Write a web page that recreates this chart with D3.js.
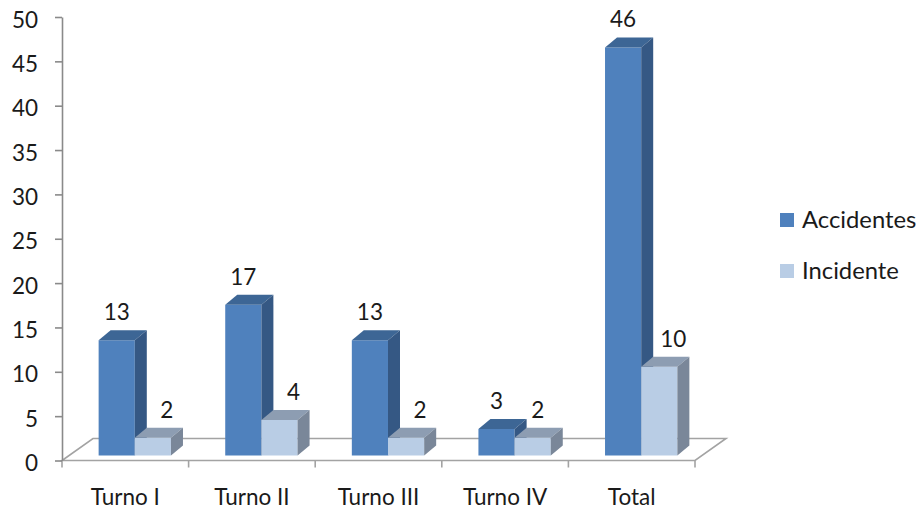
<!DOCTYPE html>
<html>
<head>
<meta charset="utf-8">
<script src="https://cdn.jsdelivr.net/npm/d3@7"></script>
<style>
  html, body { margin: 0; padding: 0; background: #fff; }
  svg { display: block; font-family: Lato, "Liberation Sans", sans-serif; }
</style>
</head>
<body>
<svg id="chart" width="921" height="510"></svg>
<script>
// Data
const categories = ["Turno I", "Turno II", "Turno III", "Turno IV", "Total"];
const seriesNames = ["Accidentes", "Incidente"];
const accidentes = [13, 17, 13, 3, 46];
const incidente = [2, 4, 2, 2, 10];
const yTicks = [0, 5, 10, 15, 20, 25, 30, 35, 40, 45, 50];

const values = [accidentes, incidente];
const palette = {
  Accidentes: { front: "#4f81bd", top: "#3d6695", side: "#355884" },
  Incidente:  { front: "#b9cde5", top: "#8d9db2", side: "#7a8799" }
};

const svg = d3.select("#chart");
const fontSize = 22.5;
const legendFontSize = 23.8;
const textColor = "#1a1a1a";

// Front plane of the plot: categories along x, values along y
const x = d3.scaleBand().domain(categories).range([62, 695]).paddingInner(0).paddingOuter(0);
const xs = d3.scaleBand().domain(seriesNames).range([0, x.bandwidth()]).paddingInner(0).paddingOuter(0.75);
const y = d3.scaleLinear().domain([0, 50]).range([460.5, 17]);

// Oblique depth projection
const floorDepth = { dx: 31, dy: -22 };
const barFront = { dx: 9.5, dy: -5 };
const barDepth = { dx: 12, dy: -10 };

// Floor
const x0 = x.range()[0], x1 = x.range()[1], yb = y(0);
const floorPts = [
  [x0, yb], [x1, yb], [x1 + floorDepth.dx, yb + floorDepth.dy], [x0 + floorDepth.dx, yb + floorDepth.dy]
];
svg.append("path")
  .attr("d", d3.line()(floorPts) + "Z")
  .attr("fill", "none")
  .attr("stroke", "#a3a3a3")
  .attr("stroke-width", 1.6)
  .attr("stroke-linejoin", "miter");

// Category tick marks along the front floor edge
const boundaries = categories.map(c => x(c)).concat([x(categories[categories.length - 1]) + x.bandwidth()]);
svg.append("g").selectAll("line").data(boundaries).join("line")
  .attr("x1", d => d).attr("x2", d => d)
  .attr("y1", yb).attr("y2", yb + 7)
  .attr("stroke", "#a3a3a3").attr("stroke-width", 1.6);

// Value axis
const yAxis = svg.append("g")
  .attr("transform", `translate(${x0},0)`)
  .call(d3.axisLeft(y).tickValues(yTicks).tickSize(7).tickPadding(17).tickSizeOuter(0));
yAxis.select(".domain").attr("stroke", "#8a8a8a").attr("stroke-width", 1.6);
yAxis.selectAll(".tick line").attr("stroke", "#8a8a8a").attr("stroke-width", 1.6);
yAxis.selectAll(".tick text")
  .attr("font-size", fontSize)
  .attr("font-family", "Lato, 'Liberation Sans', sans-serif")
  .attr("fill", textColor)
  .attr("dy", "0.45em");

// Bars as oblique prisms
const bars = svg.append("g");
categories.forEach((cat, ci) => {
  seriesNames.forEach((s, si) => {
    const v = values[si][ci];
    const col = palette[s];
    const fx0 = x(cat) + xs(s) + barFront.dx;
    const fx1 = fx0 + xs.bandwidth();
    const ft = y(v) + barFront.dy;
    const fb = y(0) + barFront.dy;
    const ddx = barDepth.dx, ddy = barDepth.dy;
    const g = bars.append("g");
    // front
    g.append("path")
      .attr("d", d3.line()([[fx0, ft], [fx1, ft], [fx1, fb], [fx0, fb]]) + "Z")
      .attr("fill", col.front);
    // top
    g.append("path")
      .attr("d", d3.line()([[fx0, ft], [fx1, ft], [fx1 + ddx, ft + ddy], [fx0 + ddx, ft + ddy]]) + "Z")
      .attr("fill", col.top);
    // right side
    g.append("path")
      .attr("d", d3.line()([[fx1, ft], [fx1 + ddx, ft + ddy], [fx1 + ddx, fb + ddy], [fx1, fb]]) + "Z")
      .attr("fill", col.side);
  });
});

// Value labels above each bar
const labels = svg.append("g")
  .attr("font-size", fontSize)
  .attr("fill", textColor)
  .attr("text-anchor", "middle");
categories.forEach((cat, ci) => {
  seriesNames.forEach((s, si) => {
    const v = values[si][ci];
    const cx = x(cat) + xs(s) + barFront.dx + xs.bandwidth() / 2;
    let shift = 0;
    if (si === 1) {
      // keep the second label clear of a taller neighbouring bar
      const diff = values[0][ci] - v;
      shift = diff > 2 ? 14 : 5;
    }
    labels.append("text")
      .attr("x", cx + shift)
      .attr("y", y(v) + barFront.dy + barDepth.dy - 10)
      .text(v);
  });
});

// Category labels
svg.append("g")
  .attr("font-size", fontSize)
  .attr("fill", textColor)
  .attr("text-anchor", "middle")
  .selectAll("text").data(categories).join("text")
  .attr("x", d => x(d) + x.bandwidth() / 2)
  .attr("y", 505)
  .text(d => d);

// Legend
const legend = svg.append("g").attr("transform", "translate(780,213)");
seriesNames.forEach((s, i) => {
  const row = legend.append("g").attr("transform", `translate(0,${i * 51})`);
  row.append("rect").attr("width", 14).attr("height", 14).attr("fill", palette[s].front);
  row.append("text")
    .attr("x", 22).attr("y", 15)
    .attr("font-size", legendFontSize)
    .attr("fill", textColor)
    .text(s);
});
</script>
</body>
</html>
